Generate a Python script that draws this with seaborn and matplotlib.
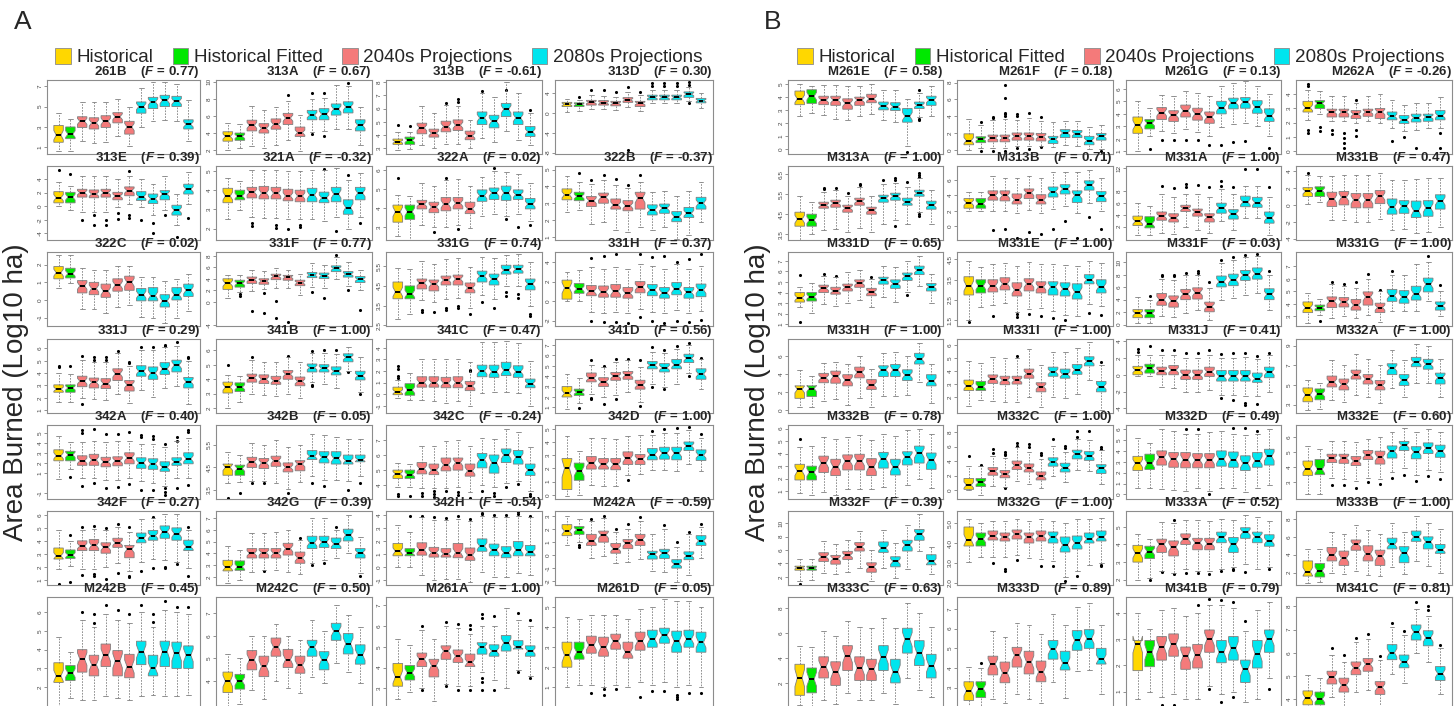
import numpy as np
import pandas as pd
import matplotlib
matplotlib.use("Agg")
import matplotlib.pyplot as plt
import seaborn as sns
from matplotlib.patches import Patch

# ---------------- DATA ----------------
GROUPS = ["Historical", "Historical Fitted", "2040s Projections", "2080s Projections"]
GROUP_COLORS = ["#FFD700", "#00E800", "#F47A7A", "#00E5EE"]
BOX_GROUP = [0, 1, 2, 2, 2, 2, 2, 3, 3, 3, 3, 3]   # 12 boxes per region

# each box: (whisker low, Q1, median, Q3, whisker high)
A_261B = [(0.6,1.5,2.2,3.15,4.4),(0.6,1.85,2.3,3.0,3.8),(1.6,2.95,3.55,4.0,5.45),(1.45,2.8,3.4,3.9,5.45),(1.5,2.95,3.55,4.1,5.45),(2.15,3.4,4.0,4.4,5.75),(1.15,2.3,3.0,3.55,5.0),(2.95,4.35,5.0,5.45,6.85),(3.55,4.8,5.45,5.9,7.4),(3.7,5.0,5.6,6.1,7.4),(3.6,5.0,5.5,6.0,7.25),(1.6,2.8,3.25,3.7,5.65)]
A_313A = [(2.0,3.05,3.6,4.15,5.2),(2.2,3.15,3.6,4.0,5.0),(2.5,4.25,4.9,5.5,7.2),(2.3,4.0,4.55,5.1,6.7),(2.6,4.45,5.0,5.65,7.0),(3.15,5.0,5.75,6.3,7.8),(1.85,3.6,4.05,4.7,6.1),(4.15,5.55,6.1,6.65,8.0),(4.25,5.55,6.2,6.85,8.15),(4.45,6.1,6.8,7.4,9.6),(4.5,6.35,7.05,7.65,9.45),(2.6,4.25,4.9,5.55,7.1)]
A_313B = [(2.9,3.3,3.5,3.7,4.2),(2.95,3.3,3.6,3.85,4.2),(3.25,4.1,4.55,4.9,6.2),(3.05,3.85,4.15,4.45,5.65),(3.3,4.25,4.65,5.05,6.25),(3.3,4.35,4.75,5.15,6.2),(3.0,3.65,3.95,4.3,5.15),(3.75,4.8,5.3,5.75,7.2),(3.5,4.55,5.05,5.5,6.85),(4.3,5.4,5.95,6.4,8.0),(3.65,4.8,5.3,5.75,7.2),(3.25,3.9,4.25,4.65,5.65)]
A_313D = [(0.25,1.25,1.7,2.1,2.75),(0.45,1.25,1.7,2.0,2.6),(0.75,1.55,2.1,2.5,3.55),(0.75,1.55,2.0,2.45,3.4),(0.6,1.4,1.9,2.3,3.25),(1.2,2.1,2.6,3.05,4.2),(0.45,1.25,1.9,2.3,3.55),(2.0,2.6,3.1,3.55,4.6),(2.0,2.6,3.1,3.55,4.6),(2.0,2.6,3.1,3.55,4.6),(2.3,3.1,3.75,4.2,5.25),(0.9,2.0,2.45,2.9,4.0)]
A_313E = [(0.0,0.5,1.25,2.15,3.5),(-0.6,0.5,1.35,2.05,3.0),(-0.8,1.35,2.0,2.5,4.4),(-0.8,1.25,1.8,2.4,4.4),(-0.8,1.35,2.0,2.5,4.4),(-0.1,0.95,1.5,2.05,3.95),(0.4,1.55,2.3,2.85,4.4),(-0.1,0.85,1.4,2.15,3.95),(-1.3,0.4,1.1,1.8,3.25),(-0.6,0.95,1.8,2.3,4.4),(-2.7,-1.3,-0.6,0.15,1.8),(0.4,1.8,2.5,3.25,5.1)]
A_321A = [(2.5,3.35,3.7,4.1,4.65),(2.95,3.5,3.7,4.0,4.5),(2.6,3.6,3.9,4.15,5.05),(2.55,3.55,3.85,4.2,5.05),(2.55,3.55,3.85,4.15,5.05),(2.5,3.45,3.7,4.05,5.0),(2.5,3.4,3.7,4.0,5.0),(2.5,3.4,3.75,4.1,5.05),(2.4,3.35,3.6,3.9,5.05),(2.6,3.4,3.8,4.15,5.15),(2.0,2.75,3.1,3.5,4.55),(2.6,3.5,3.85,4.15,4.9)]
A_322A = [(2.5,3.25,3.8,4.15,4.7),(2.3,3.4,3.8,4.15,4.65),(3.1,3.95,4.2,4.4,5.3),(3.0,3.75,4.05,4.3,5.15),(3.0,3.85,4.2,4.55,5.45),(3.1,3.95,4.25,4.55,5.55),(2.95,3.7,3.95,4.3,5.15),(3.6,4.35,4.65,4.95,5.65),(3.7,4.45,4.8,5.05,5.95),(3.6,4.4,4.8,5.15,5.9),(3.7,4.45,4.7,4.95,5.8),(3.3,3.95,4.2,4.5,5.3)]
A_322B = [(2.5,3.2,3.5,3.85,4.6),(2.6,3.15,3.4,3.65,4.25),(1.75,2.8,3.15,3.4,4.15),(1.9,3.0,3.35,3.6,4.4),(1.4,2.65,2.9,3.25,4.1),(1.3,2.55,2.85,3.15,3.9),(1.6,2.65,3.3,3.65,4.25),(1.4,2.3,2.6,2.9,3.65),(1.6,2.4,2.7,2.95,3.75),(0.9,1.9,2.2,2.5,3.4),(1.1,2.15,2.4,2.75,3.75),(1.9,2.65,3.0,3.35,4.25)]
A_322C = [(0.7,1.2,1.55,1.9,2.55),(0.95,1.25,1.5,1.8,2.55),(-0.5,0.4,0.8,1.1,1.8),(-0.5,0.3,0.65,1.0,1.7),(-0.75,0.15,0.5,0.9,1.7),(-0.4,0.5,0.85,1.2,1.95),(-0.3,0.55,1.0,1.35,1.95),(-0.95,-0.05,0.3,0.65,1.3),(-1.0,-0.05,0.25,0.7,1.3),(-1.3,-0.4,-0.05,0.3,1.1),(-1.0,0.0,0.3,0.7,1.2),(-0.6,0.2,0.55,0.9,1.5)]
A_331F = [(0.65,2.15,3.2,4.0,4.7),(1.7,2.55,3.2,3.75,4.7),(1.9,3.2,3.85,4.3,5.6),(2.15,3.05,3.6,4.0,5.35),(2.4,3.85,4.4,4.8,5.9),(2.4,3.75,4.3,4.6,5.6),(1.2,2.8,3.3,3.75,4.8),(2.65,4.2,4.65,5.1,6.7),(2.4,4.05,4.55,5.0,6.4),(4.0,5.25,5.8,6.25,7.75),(2.8,4.3,4.8,5.25,7.0),(2.0,3.35,3.9,4.4,5.6)]
A_331G = [(2.85,3.85,4.2,4.7,5.4),(3.1,3.85,4.1,4.5,5.35),(3.8,4.35,4.65,4.85,5.75),(3.7,4.25,4.6,4.8,5.6),(3.85,4.55,4.8,5.0,5.85),(3.9,4.55,4.85,5.05,5.9),(3.4,4.15,4.4,4.65,5.45),(4.05,4.7,5.0,5.25,5.95),(3.85,4.55,4.85,5.1,5.9),(4.5,5.1,5.3,5.55,6.05),(4.5,5.15,5.35,5.55,6.1),(3.5,4.3,4.6,4.85,5.7)]
A_331H = [(0.0,0.2,1.35,2.15,3.0),(0.0,0.8,1.25,1.8,3.15),(-1.1,0.55,1.0,1.6,3.5),(-1.2,0.4,0.95,1.55,3.3),(-1.1,0.4,1.0,1.7,3.5),(-1.2,0.3,0.8,1.4,3.3),(-0.8,0.85,1.45,2.0,3.8),(-1.1,0.55,1.15,1.7,3.6),(-1.2,0.3,0.85,1.4,3.3),(-0.9,0.65,1.25,1.9,3.8),(-1.2,0.3,0.9,1.4,3.3),(-1.0,0.45,1.15,1.75,3.6)]
A_331J = [(1.65,2.45,2.7,3.05,4.0),(1.7,2.45,2.8,3.05,3.9),(2.0,2.9,3.35,3.75,5.05),(1.9,2.8,3.25,3.6,4.9),(1.85,2.75,3.15,3.55,4.9),(2.3,3.4,3.95,4.35,5.6),(1.6,2.55,3.05,3.4,4.6),(2.6,3.75,4.15,4.6,5.9),(2.1,3.5,4.0,4.5,5.85),(2.8,3.9,4.35,4.85,6.1),(2.95,4.1,4.65,5.05,6.2),(1.5,2.8,3.3,3.65,5.0)]
A_341B = [(2.0,3.05,3.45,3.8,4.3),(2.45,3.15,3.45,3.75,4.2),(3.0,3.8,4.1,4.35,5.3),(2.9,3.7,4.0,4.3,5.2),(2.85,3.65,3.9,4.2,5.2),(2.95,4.0,4.35,4.6,5.5),(2.7,3.55,3.85,4.15,5.2),(3.8,4.5,4.8,5.05,5.8),(3.7,4.5,4.75,5.0,5.8),(3.4,4.3,4.55,4.85,5.75),(4.6,5.2,5.5,5.75,6.2),(3.1,3.95,4.25,4.55,5.5)]
A_341C = [(-0.3,-0.05,0.2,0.6,1.2),(-0.5,-0.1,0.35,0.9,1.8),(-0.5,0.6,1.0,1.5,3.0),(-0.6,0.6,1.0,1.5,3.0),(-0.8,0.55,0.95,1.45,3.0),(-0.6,0.55,1.0,1.5,3.0),(-1.0,0.3,0.7,1.1,2.8),(0.1,1.5,2.0,2.5,4.5),(0.2,1.45,1.95,2.5,4.5),(0.2,1.6,2.05,2.75,4.6),(0.1,1.45,1.95,2.45,4.4),(-1.0,0.55,0.9,1.3,2.9)]
A_341D = [(0.8,2.0,2.35,3.0,4.2),(1.4,2.15,2.45,2.75,3.8),(2.3,3.45,3.8,4.3,5.1),(2.0,3.0,3.45,3.85,4.9),(2.2,3.6,4.0,4.35,5.4),(2.5,3.7,4.1,4.45,5.5),(1.5,2.75,3.15,3.6,4.85),(3.2,4.7,5.05,5.4,6.35),(3.0,4.4,4.8,5.2,6.25),(3.2,4.7,5.1,5.6,6.6),(4.3,5.3,5.7,6.1,7.0),(2.8,3.7,4.2,4.7,5.6)]
A_342A = [(0.4,2.2,2.7,3.3,4.7),(1.4,2.2,2.8,3.15,4.1),(0.45,1.75,2.2,2.7,4.1),(0.45,1.75,2.3,2.85,4.2),(0.3,1.6,2.1,2.55,4.1),(0.3,1.7,2.2,2.6,4.2),(0.45,1.9,2.5,3.0,4.2),(0.15,1.45,2.0,2.5,3.9),(0.0,1.35,1.9,2.4,3.9),(-0.3,1.15,1.55,2.1,3.6),(0.45,1.75,2.1,2.5,4.2),(0.45,1.9,2.4,3.0,4.5)]
A_342B = [(3.8,4.15,4.5,4.65,5.2),(3.85,4.15,4.45,4.6,5.05),(3.9,4.5,4.75,4.95,5.6),(3.9,4.45,4.7,4.9,5.5),(3.8,4.55,4.8,5.0,5.7),(3.55,4.3,4.5,4.7,5.4),(3.85,4.35,4.65,4.8,5.5),(4.1,4.85,5.0,5.25,6.0),(3.95,4.7,4.95,5.2,5.95),(3.95,4.65,4.9,5.2,5.85),(3.9,4.65,4.8,5.05,5.75),(4.1,4.75,4.85,5.05,5.75)]
A_342C = [(3.85,4.45,4.75,5.0,5.5),(3.85,4.45,4.7,5.0,5.4),(3.8,4.75,5.1,5.5,6.6),(3.8,4.7,5.0,5.4,6.6),(3.8,4.95,5.35,5.8,6.9),(3.9,5.0,5.5,5.8,7.0),(3.55,4.6,4.95,5.4,6.6),(4.0,5.15,5.7,6.1,7.15),(3.9,4.8,5.5,6.0,7.05),(4.15,5.5,6.0,6.4,7.75),(4.25,5.4,5.85,6.3,7.55),(3.6,4.65,5.0,5.4,6.5)]
A_342D = [(-0.1,0.4,2.0,2.75,4.45),(0.0,1.1,1.8,2.4,3.35),(0.75,1.95,2.4,2.9,4.3),(0.65,1.95,2.3,2.75,4.3),(0.65,1.9,2.3,2.75,4.2),(1.5,2.3,2.75,3.25,4.45),(1.55,2.3,2.7,3.05,4.5),(1.9,2.65,3.05,3.5,4.5),(1.9,2.7,3.15,3.6,4.7),(1.8,2.65,3.15,3.6,4.7),(2.3,3.35,3.7,4.0,4.9),(1.8,2.6,3.0,3.4,4.3)]
A_342F = [(1.8,2.6,2.85,3.45,4.8),(2.1,2.65,2.9,3.3,4.0),(1.8,3.25,3.6,4.0,4.85),(1.8,3.25,3.65,4.1,4.9),(2.0,3.05,3.5,3.85,4.8),(2.3,3.5,3.85,4.2,5.05),(1.7,2.7,3.35,3.65,4.65),(2.4,3.85,4.2,4.6,5.65),(2.6,4.05,4.4,4.8,5.75),(2.5,4.2,4.7,5.15,6.1),(2.4,4.05,4.55,5.0,6.1),(1.9,3.25,3.55,4.05,4.85)]
A_342G = [(1.5,2.5,2.8,3.4,4.6),(1.7,2.55,2.85,3.35,4.3),(2.4,3.6,4.0,4.4,5.7),(2.6,3.6,4.05,4.4,5.7),(2.6,3.6,4.0,4.4,5.8),(2.4,3.85,4.4,4.85,6.0),(2.2,3.15,3.6,4.1,5.1),(3.2,4.4,4.9,5.45,7.0),(3.4,4.5,4.95,5.45,7.0),(3.6,4.4,4.8,5.3,6.0),(4.0,5.05,5.55,6.05,7.25),(2.3,3.6,4.05,4.4,5.4)]
A_342H = [(0.0,0.85,1.2,1.8,3.2),(0.0,0.85,1.05,1.4,2.7),(-0.6,0.9,1.3,1.85,3.8),(-1.0,0.75,1.1,1.5,3.6),(-0.9,0.75,1.0,1.4,3.6),(-0.95,0.7,1.1,1.8,3.7),(-1.2,0.5,0.9,1.45,3.5),(-0.4,1.2,1.6,2.15,3.9),(-0.8,0.85,1.3,1.75,3.8),(-0.8,0.7,1.1,1.55,3.8),(-0.5,0.85,1.3,1.95,3.9),(-0.6,0.85,1.15,1.65,3.8)]
A_M242A = [(0.75,1.5,1.85,2.35,3.0),(1.0,1.6,1.95,2.2,2.8),(-0.2,0.75,1.1,1.6,2.6),(-0.1,1.0,1.55,1.85,2.85),(-0.6,0.15,0.5,0.9,1.8),(-0.5,0.5,0.9,1.2,2.0),(-0.3,0.75,1.2,1.6,2.6),(-1.2,-0.3,0.05,0.3,1.6),(-1.3,-0.25,0.15,0.45,2.0),(-2.1,-1.0,-0.7,-0.35,0.6),(-1.5,-0.35,-0.05,0.25,1.6),(-0.2,0.75,1.1,1.5,2.2)]
A_M242B = [(1.0,2.25,2.6,3.3,4.7),(1.4,2.35,2.75,3.15,3.9),(1.3,2.8,3.5,4.0,5.6),(1.3,2.6,3.2,3.7,5.2),(1.5,3.1,3.7,4.3,5.9),(1.4,2.6,3.4,3.95,5.6),(1.3,2.5,3.1,3.75,5.4),(1.5,3.2,3.9,4.45,6.0),(1.6,2.6,3.0,3.7,5.2),(1.5,3.1,3.9,4.45,6.1),(1.5,3.0,3.8,4.4,6.0),(1.6,3.0,3.7,4.2,5.9)]
A_M242C = [(2.8,3.5,4.0,4.4,5.2),(3.0,3.65,4.0,4.3,5.0),(3.6,4.5,4.95,5.35,6.0),(3.2,4.2,4.65,5.1,6.0),(4.0,5.1,5.5,5.9,6.5),(3.7,4.6,4.95,5.4,6.0),(3.5,4.35,4.7,5.1,5.8),(4.2,5.1,5.5,5.8,6.7),(3.9,4.5,4.95,5.3,6.2),(4.8,5.8,6.2,6.55,7.35),(4.4,5.2,5.65,6.1,6.9),(3.9,4.75,5.15,5.6,6.4)]
A_M261A = [(2.5,3.1,3.55,4.2,5.4),(2.8,3.4,3.75,4.1,5.1),(3.0,4.05,4.4,4.7,5.8),(2.4,3.55,4.1,4.4,5.4),(3.2,4.4,4.8,5.05,6.0),(3.1,4.25,4.55,4.85,5.9),(3.1,4.05,4.25,4.65,5.6),(3.8,4.65,5.0,5.2,6.0),(3.4,4.55,4.8,5.1,6.0),(3.0,4.8,5.2,5.55,6.9),(3.9,4.9,5.0,5.3,6.3),(3.6,4.55,4.8,5.05,6.0)]
A_M261D = [(1.0,2.0,2.6,3.25,4.5),(1.1,2.4,2.75,3.25,4.4),(1.1,2.7,3.1,3.55,4.6),(1.0,2.55,3.0,3.5,4.6),(1.1,2.9,3.3,3.65,4.6),(1.0,2.45,2.75,3.25,4.4),(1.25,2.85,3.3,3.75,4.9),(1.1,3.0,3.4,3.85,5.0),(1.25,3.2,3.6,3.95,5.4),(1.0,2.75,3.3,3.8,5.3),(1.1,3.0,3.4,3.85,5.3),(1.0,2.75,3.25,3.75,5.0)]

B_M261E = [(2.5,3.4,3.85,4.45,5.0),(2.75,3.5,4.05,4.55,4.8),(2.6,3.4,3.75,4.05,4.9),(2.3,3.35,3.75,4.05,4.9),(2.2,3.05,3.5,3.85,4.8),(2.5,3.35,3.75,3.98,4.85),(2.65,3.55,3.85,4.2,5.0),(2.2,3.0,3.3,3.6,4.55),(2.05,2.95,3.25,3.55,4.55),(0.2,2.05,2.5,3.1,3.85),(2.45,3.1,3.35,3.6,4.3),(2.5,3.35,3.75,4.05,4.85)]
B_M261F = [(0.0,0.6,1.1,1.9,3.65),(0.25,0.85,1.25,1.55,2.9),(0.2,0.95,1.4,1.75,3.5),(0.2,0.95,1.4,1.75,3.65),(0.4,1.15,1.6,2.0,3.5),(0.45,1.15,1.6,2.0,3.8),(0.4,1.05,1.55,1.95,3.4),(0.3,0.75,1.25,1.6,3.25),(0.6,1.45,2.0,2.4,3.45),(0.45,1.45,1.9,2.3,3.45),(0.1,0.6,1.1,1.6,2.75),(0.1,1.15,1.6,1.95,2.9)]
B_M261G = [(1.05,2.45,3.1,3.75,5.0),(2.2,2.8,3.25,3.55,4.45),(2.6,3.55,4.1,4.5,5.5),(2.5,3.4,3.9,4.25,5.4),(2.8,3.75,4.25,4.7,5.8),(2.55,3.5,4.0,4.45,5.65),(2.25,3.25,3.75,4.15,5.4),(2.95,4.0,4.5,5.0,6.2),(3.2,4.4,4.9,5.25,6.5),(3.25,4.45,4.95,5.3,6.6),(3.05,4.05,4.55,5.05,6.2),(2.2,3.4,3.85,4.4,5.55)]
B_M262A = [(2.2,2.75,3.05,3.5,4.3),(2.6,3.0,3.35,3.55,4.2),(2.1,2.4,2.75,2.95,3.85),(2.1,2.4,2.75,2.95,3.85),(2.0,2.3,2.6,2.85,3.35),(2.15,2.45,2.75,2.95,3.85),(1.95,2.3,2.75,3.0,4.05),(1.6,2.2,2.45,2.75,3.6),(1.4,1.95,2.2,2.5,3.25),(1.5,2.05,2.35,2.6,3.35),(1.6,2.1,2.4,2.6,3.35),(1.6,2.2,2.5,2.85,3.8)]
B_M313A = [(3.2,3.9,4.25,4.6,5.4),(3.5,3.9,4.2,4.5,5.1),(3.7,4.8,4.95,5.1,5.6),(3.75,4.85,5.05,5.2,5.7),(3.6,4.6,4.8,4.95,5.4),(3.8,4.95,5.15,5.3,5.85),(3.6,4.5,4.7,4.85,5.4),(4.0,5.1,5.3,5.45,6.0),(4.2,5.2,5.4,5.55,6.05),(4.0,4.95,5.1,5.3,5.85),(4.6,5.4,5.55,5.7,6.3),(4.0,4.75,4.95,5.15,5.7)]
B_M313B = [(2.0,2.35,3.05,3.6,4.4),(2.0,2.35,2.95,3.6,4.4),(2.0,3.4,4.0,4.6,6.5),(2.0,3.3,4.0,4.6,6.3),(1.7,2.9,3.45,4.2,6.3),(2.1,3.6,4.35,4.85,6.5),(1.7,2.9,3.4,4.1,6.3),(2.3,3.8,4.5,5.1,7.0),(2.7,4.2,4.85,5.4,7.0),(1.7,3.1,4.0,4.6,7.0),(3.0,4.7,5.35,5.9,7.3),(2.0,3.2,3.9,4.5,6.3)]
B_M331A = [(0.6,2.2,2.9,3.8,6.0),(0.6,1.8,2.5,3.7,5.5),(1.0,3.1,3.8,4.5,7.5),(0.8,2.8,3.5,4.2,7.0),(2.0,4.6,5.1,5.65,7.5),(1.5,3.8,4.5,5.0,7.5),(1.0,2.8,3.6,4.2,7.0),(3.0,4.3,5.2,6.0,8.5),(1.5,3.3,4.2,4.9,7.5),(3.5,5.4,6.2,7.2,9.0),(3.5,5.3,6.1,7.0,9.0),(0.6,2.6,3.5,4.5,7.0)]
B_M331B = [(0.15,1.0,1.6,2.05,3.5),(0.35,1.0,1.7,2.15,3.4),(-1.85,-0.2,0.7,1.5,3.4),(-1.8,0.0,0.9,1.6,3.5),(-2.05,-0.35,0.6,1.35,3.5),(-2.05,-0.35,0.6,1.35,3.55),(-1.7,0.15,1.0,1.7,3.75),(-3.0,-1.1,-0.25,0.7,2.95),(-2.9,-1.0,-0.15,0.5,2.95),(-3.4,-1.5,-0.7,0.45,3.05),(-3.2,-1.35,-0.35,0.5,3.2),(-2.6,-0.5,0.45,1.2,3.2)]
B_M331D = [(2.6,3.1,3.5,4.0,4.55),(2.1,3.2,3.6,4.0,4.9),(2.9,4.0,4.4,4.7,5.6),(2.7,3.85,4.15,4.5,5.5),(3.0,4.15,4.5,4.8,5.9),(3.3,4.5,4.9,5.2,6.1),(2.6,3.7,4.05,4.4,5.3),(3.6,4.8,5.2,5.45,6.55),(3.15,4.4,4.85,5.2,6.4),(4.1,5.15,5.55,5.85,7.0),(4.6,5.7,6.1,6.5,7.45),(3.0,4.15,4.55,4.85,5.8)]
B_M331E = [(1.5,2.75,3.2,3.65,4.45),(2.15,2.85,3.2,3.5,4.15),(2.25,2.9,3.2,3.5,4.3),(2.35,3.0,3.3,3.6,4.35),(1.9,2.7,3.0,3.35,4.2),(2.05,2.95,3.3,3.55,4.4),(2.1,2.85,3.15,3.4,4.3),(1.95,2.75,3.15,3.4,4.3),(1.75,2.7,3.05,3.35,4.25),(1.7,2.55,2.9,3.3,4.2),(2.3,3.3,3.5,3.75,4.45),(2.2,2.85,3.15,3.5,4.35)]
B_M331F = [(0.25,1.1,1.8,2.4,4.35),(0.25,1.1,1.8,2.4,4.0),(1.3,3.1,4.0,5.0,7.4),(1.15,2.8,3.85,4.6,7.2),(1.8,4.0,4.9,5.65,8.0),(2.3,4.1,5.15,5.9,8.0),(0.8,2.05,2.9,3.6,5.8),(4.0,6.05,6.9,7.8,9.85),(4.2,6.25,7.2,8.1,10.3),(4.7,7.1,7.95,8.7,10.9),(5.0,7.3,8.2,9.1,11.0),(2.3,4.0,4.85,5.75,8.0)]
B_M331G = [(2.45,3.3,3.7,4.15,4.9),(3.1,3.45,3.7,3.9,4.4),(2.9,3.7,4.2,4.55,5.55),(3.0,3.75,4.15,4.5,5.4),(2.9,3.5,3.9,4.35,5.3),(3.1,3.9,4.55,4.95,6.0),(2.55,3.3,3.7,4.05,5.0),(3.4,4.2,4.65,5.15,6.3),(3.4,4.05,4.55,5.05,6.3),(3.4,4.3,4.8,5.4,7.2),(4.2,4.95,5.55,6.05,7.3),(3.0,3.5,3.85,4.15,5.0)]
B_M331H = [(0.3,1.3,2.3,2.7,4.5),(0.3,1.5,2.4,2.7,3.8),(1.0,3.05,3.6,4.1,5.3),(1.2,3.0,3.75,4.35,5.4),(0.5,2.7,3.35,3.95,5.2),(1.3,3.6,4.2,4.8,6.1),(0.3,2.3,2.8,3.4,4.6),(1.6,3.75,4.5,4.95,6.35),(1.6,3.75,4.5,5.1,6.45),(1.7,3.3,3.9,4.5,6.0),(3.1,5.15,5.7,6.35,7.55),(0.8,2.7,3.25,3.95,5.2)]
B_M331I = [(1.3,2.5,2.85,3.3,4.8),(1.8,2.5,2.8,3.2,4.6),(1.7,3.05,3.4,3.7,5.1),(1.6,2.95,3.3,3.6,5.0),(1.6,3.0,3.3,3.6,5.0),(2.0,3.45,3.8,4.15,5.7),(1.2,2.4,2.8,3.1,4.5),(2.0,3.6,3.95,4.3,5.5),(1.9,3.45,3.75,4.15,5.45),(2.2,3.75,4.1,4.5,5.8),(3.3,4.4,4.75,5.1,6.25),(1.0,2.4,2.8,3.2,4.5)]
B_M331J = [(-0.2,0.0,0.55,1.0,2.35),(-0.2,0.2,0.75,1.25,2.35),(-1.5,0.0,0.45,0.9,2.3),(-1.6,0.0,0.55,1.1,2.3),(-2.0,-0.55,0.0,0.55,2.0),(-2.0,-0.55,0.0,0.55,2.0),(-1.8,-0.2,0.35,0.9,2.3),(-2.4,-0.75,-0.2,0.5,2.0),(-2.4,-0.75,-0.2,0.5,2.0),(-2.5,-0.75,-0.2,0.5,2.1),(-2.5,-0.9,-0.45,0.2,1.9),(-2.0,-0.35,0.3,0.9,2.3)]
B_M332A = [(2.5,3.3,4.0,4.7,5.5),(2.6,3.5,4.1,4.6,5.2),(3.5,4.8,5.3,5.9,7.5),(3.3,4.5,5.05,5.6,7.0),(4.0,5.6,6.05,6.5,8.1),(3.8,5.1,5.6,6.05,7.6),(3.2,4.5,4.95,5.45,7.0),(4.7,6.05,6.7,7.15,8.55),(3.8,4.95,5.5,6.05,7.5),(5.2,6.85,7.3,7.8,9.2),(5.2,6.6,7.1,7.6,9.0),(3.8,5.1,5.75,6.2,7.6)]
B_M332B = [(0.9,1.9,2.6,3.15,4.5),(0.7,1.9,2.5,3.0,4.6),(0.95,2.5,3.25,3.8,5.35),(0.7,2.25,2.95,3.55,5.2),(1.2,2.7,3.4,3.9,5.35),(1.2,2.7,3.4,3.95,5.5),(1.2,2.25,2.95,3.6,5.1),(1.35,2.85,3.6,4.1,5.6),(0.55,2.3,2.95,3.55,5.4),(1.5,3.1,3.75,4.15,5.9),(2.0,3.25,4.05,4.6,6.0),(1.25,2.75,3.5,4.05,5.6)]
B_M332C = [(0.0,0.1,0.7,1.6,3.3),(-0.7,0.5,1.05,1.6,3.3),(0.6,2.05,2.6,3.1,4.7),(0.4,1.7,2.2,2.7,4.4),(1.3,2.85,3.4,4.0,5.9),(0.9,2.5,3.0,3.6,5.3),(0.3,1.4,1.9,2.5,4.3),(1.9,3.3,3.9,4.45,6.1),(1.1,2.5,3.1,3.7,5.3),(2.8,4.3,5.0,5.5,7.0),(2.6,4.1,4.7,5.3,6.9),(0.8,2.3,3.0,3.5,5.5)]
B_M332D = [(0.6,2.2,2.85,3.5,5.15),(0.6,2.3,2.85,3.7,4.7),(0.5,2.7,3.4,4.0,6.0),(0.4,2.5,3.25,3.85,5.85),(0.3,2.45,3.2,3.85,5.6),(0.6,2.45,3.15,3.75,5.6),(0.3,2.45,3.15,3.75,5.7),(0.6,2.6,3.25,4.0,5.8),(0.6,2.5,3.2,3.9,5.6),(0.2,2.2,2.85,3.55,5.45),(0.6,2.5,3.1,3.85,5.6),(0.9,2.7,3.5,4.15,6.0)]
B_M332E = [(2.25,3.45,3.9,4.4,5.4),(2.2,3.5,3.85,4.5,5.2),(3.3,4.3,4.6,4.85,5.75),(3.2,4.25,4.6,4.85,5.7),(3.1,4.1,4.4,4.7,5.65),(3.3,4.5,4.8,5.1,5.85),(3.2,4.2,4.65,5.05,6.0),(3.7,4.6,5.05,5.4,6.3),(3.95,5.1,5.45,5.7,6.6),(3.5,4.55,5.0,5.35,6.3),(3.8,4.9,5.25,5.6,6.55),(3.7,4.65,5.05,5.45,6.3)]
B_M332F = [(1.4,3.0,3.35,3.6,4.7),(1.6,3.0,3.3,3.6,4.6),(2.6,4.3,5.0,5.6,7.3),(2.4,3.9,4.7,5.2,6.9),(2.8,4.6,5.2,5.8,7.5),(3.4,5.85,6.5,7.1,8.8),(1.4,2.7,3.5,4.1,6.0),(3.3,5.65,6.3,7.2,9.0),(1.8,3.5,4.3,5.0,7.0),(3.2,5.85,6.75,7.45,9.7),(5.8,7.45,8.35,9.05,11.3),(2.4,3.8,4.3,5.3,6.5)]
B_M332G = [(3.05,3.85,4.15,4.8,5.2),(3.3,3.85,4.2,4.5,5.0),(3.3,4.15,4.35,4.6,5.1),(3.3,4.1,4.3,4.5,5.1),(3.4,4.2,4.45,4.65,5.2),(3.25,4.0,4.3,4.5,5.1),(3.2,4.1,4.35,4.6,5.2),(3.1,4.0,4.3,4.55,5.1),(2.3,3.55,3.9,4.3,5.0),(2.6,3.7,4.0,4.35,5.2),(2.9,4.0,4.2,4.5,5.2),(3.0,4.1,4.3,4.6,5.25)]
B_M333A = [(2.0,3.0,3.5,3.95,4.6),(2.1,3.2,3.6,3.9,4.3),(2.5,3.55,4.0,4.3,5.3),(2.4,3.35,3.85,4.2,5.2),(2.6,4.0,4.3,4.6,5.4),(2.5,3.7,4.1,4.35,5.4),(2.5,3.7,4.05,4.35,5.35),(2.6,4.1,4.4,4.7,5.45),(2.7,3.55,4.0,4.4,5.4),(2.9,4.35,4.7,4.95,5.7),(2.6,4.1,4.45,4.7,5.55),(2.7,3.9,4.2,4.55,5.35)]
B_M333B = [(0.8,1.6,2.1,3.3,4.6),(0.9,1.5,2.2,3.0,4.6),(1.9,3.3,4.0,4.8,6.5),(1.8,2.8,3.6,4.4,6.3),(2.2,4.5,5.15,5.65,7.3),(1.7,3.3,4.1,5.0,6.8),(1.6,2.8,3.8,4.5,6.3),(2.6,4.65,5.15,5.85,7.5),(1.8,3.1,4.2,4.9,6.6),(3.3,5.5,6.0,6.65,8.3),(2.7,4.65,5.45,6.0,7.6),(2.0,4.15,4.55,5.15,6.85)]
B_M333C = [(0.2,1.0,2.4,3.5,5.0),(0.0,1.2,2.3,3.2,4.9),(0.6,2.4,3.3,4.1,6.2),(0.3,1.8,2.9,3.7,5.8),(1.2,3.0,4.2,5.0,7.0),(0.6,2.2,3.2,4.1,6.5),(0.6,2.2,3.1,3.9,6.4),(1.2,3.0,4.1,5.0,7.2),(0.3,2.0,2.9,3.9,6.4),(2.4,4.4,5.5,6.4,8.4),(1.4,3.4,4.4,5.4,7.6),(0.9,2.4,3.4,4.3,6.5)]
B_M333D = [(1.7,2.35,2.85,3.3,4.05),(1.75,2.5,2.95,3.3,4.0),(2.4,3.65,4.2,4.6,5.9),(2.2,3.25,3.75,4.3,5.6),(2.7,4.05,4.65,5.05,6.3),(2.4,3.7,4.3,4.85,6.2),(2.2,3.3,3.8,4.35,5.75),(3.3,4.45,4.95,5.4,6.75),(2.5,3.9,4.25,4.85,6.2),(3.85,4.9,5.4,5.9,7.1),(3.9,5.0,5.5,5.95,7.3),(2.7,4.2,4.45,5.0,6.2)]
B_M341B = [(0.7,1.8,2.8,2.95,4.0),(1.0,1.95,2.5,2.95,3.4),(0.8,2.2,2.7,3.1,4.1),(0.9,2.35,2.8,3.2,4.2),(0.7,1.85,2.35,2.7,3.9),(0.7,1.9,2.4,2.8,4.0),(1.2,2.5,3.0,3.35,4.3),(0.9,2.1,2.5,2.95,4.3),(1.0,2.2,2.65,3.1,4.2),(0.6,1.35,1.85,2.2,3.3),(0.7,1.9,2.45,2.95,4.1),(1.5,2.5,3.0,3.35,4.4)]
B_M341C = [(3.4,3.75,4.05,4.35,5.05),(3.45,3.75,4.0,4.3,4.9),(4.1,4.65,4.95,5.2,5.9),(3.6,4.3,4.6,4.9,5.6),(4.3,5.05,5.35,5.6,6.45),(4.4,5.2,5.5,5.75,6.6),(3.55,4.2,4.5,4.75,5.7),(5.1,5.7,6.0,6.35,7.1),(4.7,5.35,5.6,5.9,6.75),(6.0,6.55,6.9,7.2,7.9),(5.6,6.3,6.65,6.95,7.6),(4.2,4.8,5.1,5.4,6.2)]

# outlying points: (box index, value)
OUTLIERS = {
    "313A": [(5,8.4),(7,8.7),(7,3.9),(8,8.7),(8,3.7),(10,9.9)],
    "313B": [(0,4.8),(1,4.7),(4,6.4),(5,6.5),(5,6.75),(7,7.35),(9,7.45),(11,5.9)],
    "313D": [(1,3.1),(2,4.6),(3,4.5),(4,4.2),(5,5.25),(6,4.2),(7,5.4),(7,6.0),(8,5.4),(8,6.0),(9,5.4),(9,6.0),(10,5.6),(10,6.2),(10,2.0),(5,-7.4)],
    "313E": [(0,5.4),(1,4.7),(2,-2.0),(3,-1.3),(3,-2.7),(4,-2.0),(4,-2.7),(5,-1.0),(5,-1.9),(6,5.2),(6,-1.3),(6,-1.8),(7,-2.0),(8,-2.5),(8,-4.0),(9,-1.3),(10,-4.5),(11,-1.8)],
    "321A": [(2,2.3),(2,2.15),(4,2.2),(4,2.05),(5,2.0),(6,2.2),(6,2.1),(8,5.1),(9,1.9),(10,4.8),(11,2.3)],
    "322A": [(0,5.6),(4,5.6),(8,6.1),(9,3.4),(10,3.0),(11,3.1),(3,2.75),(5,2.9)],
    "322B": [(1,4.8),(2,4.35),(3,4.7),(4,4.45),(5,4.1),(6,4.65)],
    "331F": [(1,1.3),(1,0.95),(2,-1.7),(3,1.6),(3,-2.0),(4,0.1),(4,-2.9),(5,-3.5),(7,1.7),(8,0.65),(9,8.1),(10,2.0),(11,-1.45)],
    "331G": [(2,3.3),(2,3.2),(3,3.2),(4,3.4),(4,3.3),(5,3.5),(5,3.4),(6,3.1),(7,3.7),(8,3.4),(9,4.2),(9,4.0),(10,4.1),(10,3.9),(11,3.1),(11,3.0)],
    "331H": [(2,4.4),(2,-2.0),(3,4.6),(3,-2.1),(4,4.8),(4,-2.1),(5,-2.3),(6,4.8),(6,-1.6),(7,4.5),(7,-2.0),(8,4.6),(8,-2.3),(9,4.0),(9,-2.0),(10,4.3),(10,-2.1),(11,4.8),(11,-1.9)],
    "331J": [(0,4.6),(0,4.5),(1,4.6),(2,5.35),(2,1.5),(3,5.3),(3,5.1),(4,5.3),(4,5.1),(5,5.8),(6,4.9),(6,4.8),(7,6.15),(8,6.15),(9,6.3),(9,6.2),(10,6.5),(11,5.3),(11,5.2)],
    "341B": [(0,5.0),(2,5.5),(5,5.6),(7,5.95),(7,3.6),(7,3.5),(8,6.0),(9,6.0),(10,4.5),(11,3.0)],
    "341C": [(0,2.4),(0,2.2),(0,1.6),(0,1.4),(6,2.0),(6,2.1)],
    "341D": [(1,0.9),(2,5.5),(2,1.9),(2,1.8),(3,5.0),(3,1.3),(4,5.6),(4,1.8),(5,5.6),(6,5.5),(6,1.1),(7,6.8),(7,3.0),(8,6.5),(8,2.8),(9,6.85),(10,7.2),(10,4.0),(11,5.7)],
    "342A": [(1,0.55),(2,5.3),(2,5.0),(2,-0.3),(3,5.4),(3,0.0),(4,4.9),(4,-0.5),(5,4.9),(5,-0.4),(6,5.1),(6,-0.1),(7,4.8),(7,4.6),(7,-0.7),(8,4.7),(8,4.4),(8,-0.7),(9,3.9),(9,-0.5),(9,-0.9),(9,-1.2),(10,4.6),(10,4.2),(10,-0.5),(11,5.3),(11,5.1),(11,-0.2)],
    "342B": [(0,3.15),(1,3.35),(2,3.8),(3,3.8),(5,3.35),(7,3.8),(8,3.65),(10,3.5),(11,3.8)],
    "342C": [(0,3.45),(0,3.3),(1,3.3),(2,3.5),(2,3.3),(3,3.6),(3,3.4),(3,3.25),(4,3.6),(5,3.55),(5,3.35),(6,3.15),(7,3.6),(8,3.5),(8,3.3),(9,3.9),(10,4.1),(11,3.45),(11,3.3)],
    "342D": [(5,1.1),(7,4.85),(8,5.0),(9,5.05),(10,5.15),(11,4.6)],
    "342F": [(0,0.7),(1,4.45),(1,0.8),(2,5.1),(2,1.4),(3,5.15),(3,1.45),(3,1.3),(4,5.0),(4,1.1),(5,5.3),(5,1.5),(6,5.05),(6,1.3),(6,1.2),(7,1.7),(8,5.85),(8,1.9),(9,2.0),(9,1.9),(10,2.2),(11,5.1),(11,1.3)],
    "342G": [(3,2.5),(6,5.3),(7,3.0),(8,3.2),(9,6.2),(11,2.1)],
    "342H": [(1,3.9),(2,3.95),(3,3.85),(4,3.75),(5,3.95),(6,3.65),(7,4.15),(7,4.05),(8,4.0),(9,4.0),(10,4.2),(10,4.1),(11,3.95)],
    "M242A": [(1,0.8),(1,0.65),(2,2.75),(3,3.0),(4,2.0),(5,2.4),(6,2.9),(8,2.35),(9,1.0),(10,1.8),(11,2.4)],
    "M242B": [(2,6.0),(3,5.9),(3,5.4),(4,6.4),(5,6.1),(6,5.9),(7,6.4),(8,5.9),(8,5.5),(9,6.6),(10,6.3),(11,6.3)],
    "M261A": [(2,6.0),(2,2.9),(3,2.1),(4,6.2),(4,3.1),(5,6.1),(5,2.9),(6,6.05),(6,5.85),(6,2.9),(7,6.6),(7,6.4),(7,3.5),(7,3.3),(7,2.9),(8,6.5),(8,2.9),(10,6.65),(10,3.8),(11,6.3),(11,3.5)],
    "M261D": [(2,0.7),(3,0.9),(3,0.6),(4,0.9),(6,0.5),(7,0.8),(8,0.8),(9,0.6),(9,0.5),(9,0.4),(10,0.7),(11,0.7)],
    "M261E": [(9,-0.25),(10,4.55),(10,2.3),(10,2.2)],
    "M261F": [(1,3.3),(1,-0.1),(2,3.8),(2,3.9),(2,-0.1),(3,7.7),(3,6.1),(3,4.4),(3,4.2),(3,4.0),(3,-0.1),(4,4.0),(4,4.2),(4,0.2),(5,4.4),(5,0.1),(6,3.9),(6,0.3),(11,-0.1)],
    "M261G": [(1,1.2),(2,1.9),(3,1.9),(4,1.9),(5,1.9),(6,1.5),(7,1.5),(8,1.75),(9,1.8),(11,1.3)],
    "M262A": [(0,4.75),(0,4.6),(0,1.5),(0,1.3),(1,1.7),(1,1.4),(2,1.5),(2,1.2),(3,1.3),(3,0.9),(3,0.6),(3,0.2),(4,3.6),(4,1.5),(4,1.1),(7,0.7),(8,1.0),(9,0.2),(11,0.2),(11,1.3)],
    "M313A": [(2,5.8),(2,5.75),(3,5.8),(4,5.55),(5,6.0),(5,5.95),(7,6.2),(8,6.3),(8,6.2),(8,3.9),(9,6.1),(10,6.55),(10,6.45),(10,6.35),(10,4.5),(10,4.4)],
    "M313B": [(2,-0.5),(3,-0.4),(4,-1.5),(5,-0.7),(6,-1.0),(7,-0.4),(8,0.7),(9,-1.5),(10,1.2),(11,-0.3)],
    "M331A": [(2,9.0),(3,8.6),(4,9.2),(4,8.8),(5,9.1),(6,8.7),(7,9.8),(7,8.9),(8,8.7),(9,11.8),(10,11.8),(11,8.8)],
    "M331B": [(0,3.75)],
    "M331D": [(0,5.7),(0,1.2),(2,5.75),(3,5.6),(6,5.45),(9,3.8)],
    "M331E": [(0,1.4),(2,1.7),(4,1.8),(4,1.65),(5,1.8),(6,1.7),(7,1.6),(8,1.5),(9,1.2),(10,1.85),(11,1.75)],
    "M331F": [(1,4.6),(2,8.0),(2,7.8),(3,8.0),(3,7.8),(4,8.3),(5,8.6),(5,8.3),(6,6.9),(7,10.3),(8,10.8),(9,11.2),(10,11.4),(11,8.6)],
    "M331G": [(1,2.6),(2,5.75),(3,5.6),(4,5.75),(5,6.4),(6,5.1),(7,6.6),(11,5.5),(10,7.8)],
    "M331I": [(4,5.15),(11,4.7)],
    "M331J": [(0,3.1),(0,2.75),(1,3.45),(2,2.9),(3,3.0),(4,2.6),(5,2.6),(6,2.9),(7,2.5),(7,-2.8),(8,2.6),(8,-3.0),(9,2.6),(9,-3.3),(9,-3.6),(10,2.2),(10,-3.5),(11,2.6)],
    "M332B": [(0,5.15)],
    "M332C": [(0,4.7),(1,3.4),(2,5.6),(2,5.1),(3,5.3),(3,5.0),(3,4.8),(3,0.3),(4,6.5),(4,6.1),(5,6.3),(5,5.9),(6,5.1),(6,4.8),(7,7.1),(8,6.1),(8,5.8),(9,8.2),(9,7.3),(10,8.2),(11,6.0),(11,5.7)],
    "M332D": [(4,6.05),(5,6.05),(6,0.0),(8,6.15),(9,6.15),(10,5.85),(10,-0.3)],
    "M332E": [(2,2.8),(3,2.8),(4,2.6),(5,3.0),(6,2.9),(7,3.3),(8,3.5),(9,3.1),(10,3.4),(11,3.2)],
    "M332F": [(0,1.0)],
    "M332G": [(2,3.0),(3,2.7),(3,2.6),(4,3.15),(6,2.85),(7,2.85),(8,2.1),(9,2.35),(11,2.9),(11,2.85)],
    "M333A": [(1,2.0),(2,2.45),(3,5.4),(3,2.3),(4,2.4),(5,2.4),(6,2.35),(7,2.5),(8,2.6),(8,2.55),(9,2.45),(11,2.6)],
    "M333D": [(1,4.25),(3,1.8)],
    "M341B": [(2,0.5),(3,0.5),(4,0.3),(5,0.35),(5,4.3),(6,4.55),(6,1.1),(7,4.5),(7,0.6),(8,4.4),(8,0.8),(9,3.7),(9,0.35),(11,1.1)],
    "M341C": [(2,6.2),(3,5.9),(4,6.65),(5,6.8),(6,5.85),(7,7.3),(8,6.95),(9,8.2),(10,8.0),(10,7.85),(11,6.35)],
}

F_VALUES = {
    "261B": 0.77, "313A": 0.67, "313B": -0.61, "313D": 0.30, "313E": 0.39, "321A": -0.32, "322A": 0.02, "322B": -0.37,
    "322C": 0.02, "331F": 0.77, "331G": 0.74, "331H": 0.37, "331J": 0.29, "341B": 1.00, "341C": 0.47, "341D": 0.56,
    "342A": 0.40, "342B": 0.05, "342C": -0.24, "342D": 1.00, "342F": 0.27, "342G": 0.39, "342H": -0.54, "M242A": -0.59,
    "M242B": 0.45, "M242C": 0.50, "M261A": 1.00, "M261D": 0.05,
    "M261E": 0.58, "M261F": 0.18, "M261G": 0.13, "M262A": -0.26, "M313A": 1.00, "M313B": 0.71, "M331A": 1.00, "M331B": 0.47,
    "M331D": 0.65, "M331E": 1.00, "M331F": 0.03, "M331G": 1.00, "M331H": 1.00, "M331I": 1.00, "M331J": 0.41, "M332A": 1.00,
    "M332B": 0.78, "M332C": 1.00, "M332D": 0.49, "M332E": 0.60, "M332F": 0.39, "M332G": 1.00, "M333A": 0.52, "M333B": 1.00,
    "M333C": 0.63, "M333D": 0.89, "M341B": 0.79, "M341C": 0.81,
}

# y tick labels of each region
YTICKS = {
    "261B": ["1","3","5","7"], "313A": ["2","4","6","8","10"], "313B": ["3","4","5","6","7","8"], "313D": ["-8","-4","0","4"],
    "313E": ["-4","-2","0","2","4"], "321A": ["2","3","4","5"], "322A": ["3","4","5","6"], "322B": ["1","2","3","4","5"],
    "322C": ["-1","0","1","2"], "331F": ["-4","0","2","4","6","8"], "331G": ["2.5","3.5","4.5","5.5"], "331H": ["-2","0","2","4"],
    "331J": ["1","2","3","4","5","6"], "341B": ["2","3","4","5","6"], "341C": ["-1","0","1","2","3","4"], "341D": ["1","2","3","4","5","6","7"],
    "342A": ["-1","1","2","3","4","5"], "342B": ["3.5","4.5","5.5"], "342C": ["4","5","6","7"], "342D": ["0","1","2","3","4","5"],
    "342F": ["1","2","3","4","5","6"], "342G": ["2","3","4","5","6","7"], "342H": ["-1","0","1","2","3","4"], "M242A": ["-2","-1","0","1","2","3"],
    "M242B": ["1","2","3","4","5","6"], "M242C": ["3","4","5","6","7"], "M261A": ["2","3","4","5","6","7"], "M261D": ["0","1","2","3","4","5"],
    "M261E": ["0","1","2","3","4","5"], "M261F": ["0","2","4","6","8"], "M261G": ["1","2","3","4","5","6"], "M262A": ["0","1","2","3","4"],
    "M313A": ["3.5","4.5","5.5","6.5"], "M313B": ["0","2","4","6"], "M331A": ["2","4","6","8","12"], "M331B": ["-4","-2","0","2","4"],
    "M331D": ["1","2","3","4","5","6","7"], "M331E": ["1.5","2.5","3.5","4.5"], "M331F": ["0","2","4","6","8","10"], "M331G": ["3","4","5","6","7"],
    "M331H": ["0","2","4","6"], "M331I": ["2","3","4","5","6"], "M331J": ["-4","-2","0","2","4"], "M332A": ["3","5","7","9"],
    "M332B": ["1","2","3","4","5","6"], "M332C": ["0","2","4","6","8"], "M332D": ["0","1","2","3","4","5","6"], "M332E": ["3","4","5","6"],
    "M332F": ["2","4","6","8","10"], "M332G": ["2.0","3.0","4.0","5.0"], "M333A": ["2","3","4","5"], "M333B": ["2","4","6","8"],
    "M333C": ["0","2","4","6","8"], "M333D": ["2","3","4","5","6","7"], "M341B": ["1","2","3","4"], "M341C": ["4","5","6","7","8"],
}

REGIONS_A = [("261B", A_261B), ("313A", A_313A), ("313B", A_313B), ("313D", A_313D),
             ("313E", A_313E), ("321A", A_321A), ("322A", A_322A), ("322B", A_322B),
             ("322C", A_322C), ("331F", A_331F), ("331G", A_331G), ("331H", A_331H),
             ("331J", A_331J), ("341B", A_341B), ("341C", A_341C), ("341D", A_341D),
             ("342A", A_342A), ("342B", A_342B), ("342C", A_342C), ("342D", A_342D),
             ("342F", A_342F), ("342G", A_342G), ("342H", A_342H), ("M242A", A_M242A),
             ("M242B", A_M242B), ("M242C", A_M242C), ("M261A", A_M261A), ("M261D", A_M261D)]
REGIONS_B = [("M261E", B_M261E), ("M261F", B_M261F), ("M261G", B_M261G), ("M262A", B_M262A),
             ("M313A", B_M313A), ("M313B", B_M313B), ("M331A", B_M331A), ("M331B", B_M331B),
             ("M331D", B_M331D), ("M331E", B_M331E), ("M331F", B_M331F), ("M331G", B_M331G),
             ("M331H", B_M331H), ("M331I", B_M331I), ("M331J", B_M331J), ("M332A", B_M332A),
             ("M332B", B_M332B), ("M332C", B_M332C), ("M332D", B_M332D), ("M332E", B_M332E),
             ("M332F", B_M332F), ("M332G", B_M332G), ("M333A", B_M333A), ("M333B", B_M333B),
             ("M333C", B_M333C), ("M333D", B_M333D), ("M341B", B_M341B), ("M341C", B_M341C)]

# ---------------- LAYOUT / STYLE ----------------
YLIM = {
    "261B": (0.35, 7.6), "313A": (1.55, 10.2), "313B": (2.57, 8.17), "313D": (-8.3, 6.6), "313E": (-5.0, 5.9), "321A": (1.4, 5.25),
    "322A": (2.3, 6.2), "322B": (0.8, 5.2), "322C": (-1.5, 2.7), "331F": (-4.3, 8.6), "331G": (2.45, 6.2), "331H": (-2.6, 5.0),
    "331J": (0.8, 6.8), "341B": (1.7, 6.8), "341C": (-1.6, 4.8), "341D": (0.5, 7.6), "342A": (-1.6, 5.8), "342B": (3.1, 6.4),
    "342C": (3.1, 8.0), "342D": (-0.3, 5.3), "342F": (0.6, 6.3), "342G": (1.3, 7.6), "342H": (-1.4, 4.3), "M242A": (-2.3, 3.4),
    "M242B": (0.5, 6.8), "M242C": (2.5, 7.7), "M261A": (1.7, 7.4), "M261D": (-0.4, 5.5),
    "M261E": (-0.4, 5.3), "M261F": (-0.5, 8.3), "M261G": (0.8, 6.7), "M262A": (-0.2, 5.0), "M313A": (3.2, 6.9), "M313B": (-1.8, 7.8),
    "M331A": (-0.3, 12.3), "M331B": (-4.2, 4.6), "M331D": (0.8, 7.8), "M331E": (1.2, 4.85), "M331F": (-0.3, 11.6), "M331G": (2.2, 8.1),
    "M331H": (-0.3, 8.0), "M331I": (0.8, 6.5), "M331J": (-4.5, 4.3), "M332A": (2.2, 9.7), "M332B": (0.4, 6.3), "M332C": (-1.2, 9.0),
    "M332D": (-0.4, 6.4), "M332E": (1.9, 6.8), "M332F": (0.8, 11.8), "M332G": (1.9, 5.6), "M333A": (1.7, 5.9), "M333B": (0.6, 8.9),
    "M333C": (-0.6, 8.9), "M333D": (1.6, 7.6), "M341B": (0.1, 4.6), "M341C": (3.3, 8.4),
}

W, H = 1455, 706
COLS_A = [(47, 200), (216, 372), (386, 542), (555, 713)]
COLS_B = [(788, 943), (957, 1113), (1126, 1281), (1296, 1452)]
ROW_TOP0, ROW_PITCH, FRAME_H = 80, 86.2, 74
LAST_FRAME_H = 118
EDGE = "#7f7f7f"
K = 10

sns.set_theme(style="white")
plt.rcParams["font.family"] = ["Liberation Sans Narrow", "Liberation Sans", "DejaVu Sans"]
plt.rcParams["mathtext.fontset"] = "custom"
plt.rcParams["mathtext.rm"] = "Liberation Sans:bold"
plt.rcParams["mathtext.it"] = "Liberation Sans:italic:bold"
plt.rcParams["mathtext.bf"] = "Liberation Sans:bold"

fig = plt.figure(figsize=(W / 100, H / 100), dpi=100)
order = [f"b{i}" for i in range(12)]
pal = {f"b{i}": GROUP_COLORS[BOX_GROUP[i]] for i in range(12)}


def draw_region(ax, name, boxes, top, fh):
    recs = []
    for i, b in enumerate(boxes):
        lo, q1, md, q3, hi = sorted(b)
        for v in [lo] + [q1] * K + [md] * K + [q3] * K + [hi]:
            recs.append((f"b{i}", v))
    df = pd.DataFrame(recs, columns=["box", "value"])
    sns.boxplot(data=df, x="box", y="value", hue="box", order=order, hue_order=order,
                palette=pal, dodge=False, legend=False, saturation=1, notch=True,
                whis=(0, 100), width=0.8, linecolor=EDGE, linewidth=0.6,
                medianprops=dict(color="black", linewidth=1.4),
                whiskerprops=dict(linestyle=(0, (2.0, 1.5))),
                ax=ax)
    pts = OUTLIERS.get(name, [])
    if pts:
        odf = pd.DataFrame(pts, columns=["pos", "value"])
        sns.scatterplot(data=odf, x="pos", y="value", color="black", s=5, linewidth=0,
                        legend=False, ax=ax)
    ax.set_xlim(-0.98, 11.98)
    y0, y1 = YLIM[name]
    ax.set_ylim(y0, y1)
    # keep only the tick labels that fall inside the visible picture
    labs = [t for t in YTICKS[name]
            if top + fh * (y1 - float(t)) / (y1 - y0) < H - 6]
    ax.set_yticks([float(t) for t in labs])
    ax.set_yticklabels(labs, rotation=90, va="center", fontsize=4.6, color="#444444")
    ax.tick_params(axis="y", length=2.2, width=0.5, pad=1.0, color="#666666", left=True)
    ax.set_xticks([])
    ax.set_xlabel("")
    ax.set_ylabel("")
    for s in ax.spines.values():
        s.set_color("#8c8c8c")
        s.set_linewidth(0.8)
    ax.set_title(f"{name}    (" + r"$\mathit{F}$" + f" = {F_VALUES[name]:.2f})",
                 loc="right", pad=1.2, fontsize=9.5, fontweight="bold")


for regions, cols in [(REGIONS_A, COLS_A), (REGIONS_B, COLS_B)]:
    for k, (name, boxes) in enumerate(regions):
        r, c = divmod(k, 4)
        x0, x1 = cols[c]
        top = ROW_TOP0 + r * ROW_PITCH
        fh = LAST_FRAME_H if r == 6 else FRAME_H
        ax = fig.add_axes([x0 / W, 1 - (top + fh) / H, (x1 - x0) / W, fh / H])
        draw_region(ax, name, boxes, top, fh)

# panel letters, y labels, legends
fig.text(14 / W, 1 - 22 / H, "A", fontsize=19, va="center", ha="left", family=["Liberation Sans", "DejaVu Sans"])
fig.text(764 / W, 1 - 22 / H, "B", fontsize=19, va="center", ha="left", family=["Liberation Sans", "DejaVu Sans"])
for xl in (16, 758):
    fig.text(xl / W, 1 - 392 / H, "Area Burned (Log10 ha)", rotation=90, fontsize=20,
             va="center", ha="center", family=["Liberation Sans", "DejaVu Sans"])

handles = [Patch(facecolor=c, edgecolor="#8a8a8a", linewidth=0.6, label=l)
           for c, l in zip(GROUP_COLORS, GROUPS)]
for cx in (379, 1121):
    fig.legend(handles=handles, loc="center", bbox_to_anchor=(cx / W, 1 - 57 / H), ncol=4,
               frameon=False, handlelength=0.8, handleheight=0.95, handletextpad=0.3,
               columnspacing=1.05, borderaxespad=0, borderpad=0,
               prop={"family": ["Liberation Sans", "DejaVu Sans"], "size": 13.6})

fig.savefig("out.png", dpi=100)
